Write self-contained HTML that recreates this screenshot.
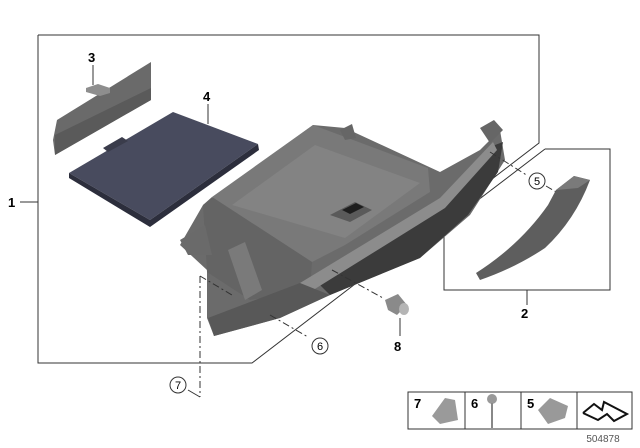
<!DOCTYPE html>
<html><head><meta charset="utf-8"><style>
html,body{margin:0;padding:0;background:#fff;}
svg{display:block;font-family:"Liberation Sans",Arial,sans-serif;}
</style></head><body>
<svg width="640" height="448" viewBox="0 0 640 448">
<!-- frame 1 -->
<polyline points="38,35 539,35 539,143 252,363 38,363 38,35" fill="none" stroke="#333" stroke-width="1"/>
<line x1="20" y1="202" x2="38" y2="202" stroke="#333"/>
<text x="8" y="207" font-size="13" font-weight="bold">1</text>
<!-- frame 2 -->
<polyline points="545,149 610,149 610,290 444,290 444,226 545,149" fill="none" stroke="#333"/>
<line x1="527" y1="290" x2="527" y2="305" stroke="#333"/>
<text x="521" y="318" font-size="13" font-weight="bold">2</text>

<!-- part 3 -->
<polygon points="57,120 151,62 151,100 55,155 53,140" fill="#6a6a6a"/>
<polygon points="55,135 151,88 151,100 55,155" fill="#5a5a5a"/>
<polygon points="86,88 98,84 110,88 110,93 100,96 86,92" fill="#8e8e8e"/>
<line x1="93" y1="65" x2="93" y2="85" stroke="#333"/>
<text x="88" y="62" font-size="13" font-weight="bold">3</text>

<!-- part 4 -->
<polygon points="69,173 173,112 258,144 150,220" fill="#484b5e"/>
<polygon points="69,173 150,220 258,144 259,150 150,227 69,178" fill="#2c2e3c"/>
<polygon points="103,148 122,137 128,141 108,152" fill="#3a3c4b"/>
<line x1="208" y1="104" x2="208" y2="124" stroke="#333"/>
<text x="203" y="101" font-size="13" font-weight="bold">4</text>

<!-- main glove box -->
<polygon points="203,205 313,125 345,128 440,172 480,150 500,130 505,160 470,215 420,258 330,295 280,318 214,336 207,318 207,270 180,245" fill="#6b6b6b"/>
<polygon points="212,197 313,125 428,168 430,192 345,245 312,262" fill="#797979"/>
<polygon points="232,205 315,145 420,183 345,238" fill="#838383"/>
<polygon points="330,215 355,202 372,210 350,222" fill="#5a5a5a"/>
<polygon points="342,210 356,203 364,207 350,214" fill="#1e1e1e"/>
<polygon points="203,205 212,197 312,262 310,290 250,300 207,272" fill="#646464"/>
<polygon points="315,280 440,205 495,145 503,142 498,172 468,215 420,258 330,295" fill="#3b3b3b"/>
<polygon points="300,283 440,198 493,142 497,150 445,208 310,292" fill="#8c8c8c"/>
<polygon points="208,318 300,283 330,295 280,318 214,336" fill="#585858"/>
<polygon points="480,128 494,120 503,130 490,143" fill="#666"/>
<polygon points="340,130 352,124 356,138 345,140" fill="#666"/>
<polygon points="180,240 205,225 212,255 188,255" fill="#6a6a6a"/>
<polygon points="228,250 245,242 262,290 245,300" fill="#7a7a7a"/>
<!-- dashed leaders -->
<g stroke="#333" stroke-width="1" stroke-dasharray="7,3,2,3" fill="none">
<line x1="200" y1="276" x2="200" y2="397"/>
<line x1="200" y1="276" x2="232" y2="295"/>
<line x1="270" y1="315" x2="308" y2="337"/>
<line x1="332" y1="270" x2="383" y2="298"/>
<line x1="490" y1="152" x2="528" y2="176"/>
<line x1="546" y1="186" x2="558" y2="193"/>
</g>
<line x1="188" y1="390" x2="200" y2="397" stroke="#333"/>
<!-- part 2 piece -->
<path d="M476,273 Q520,245 548,205 L556,190 L574,176 L590,180 Q575,220 545,248 Q515,268 480,280 Z" fill="#5e5e5e"/>
<polygon points="556,190 574,176 590,180 578,188" fill="#7a7a7a"/>
<!-- clip 8 -->
<polygon points="385,300 398,294 407,305 397,315 388,310" fill="#8a8a8a"/>
<ellipse cx="404" cy="309" rx="5" ry="6" fill="#b5b5b5"/>
<line x1="400" y1="318" x2="400" y2="336" stroke="#333"/>
<text x="394" y="351" font-size="13" font-weight="bold">8</text>
<!-- circles -->
<g fill="#fff" stroke="#333">
<circle cx="537" cy="181" r="8"/>
<circle cx="320" cy="346" r="8"/>
<circle cx="178" cy="385" r="8"/>
</g>
<g font-size="11" text-anchor="middle">
<text x="537" y="185">5</text><text x="320" y="350">6</text><text x="178" y="389">7</text>
</g>
<!-- legend -->
<rect x="408" y="392" width="224" height="37" fill="#fff" stroke="#333"/>
<line x1="465" y1="392" x2="465" y2="429" stroke="#333"/>
<line x1="521" y1="392" x2="521" y2="429" stroke="#333"/>
<line x1="577" y1="392" x2="577" y2="429" stroke="#333"/>
<g font-size="13" font-weight="bold">
<text x="414" y="408">7</text><text x="471" y="408">6</text><text x="527" y="408">5</text>
</g>
<polygon points="432,416 445,398 455,400 458,420 440,424" fill="#9a9a9a"/>
<circle cx="492" cy="399" r="5" fill="#999"/>
<line x1="492" y1="403" x2="492" y2="428" stroke="#888" stroke-width="2"/>
<polygon points="538,410 550,398 568,406 565,418 548,424" fill="#999"/>
<polyline points="583,413 594,404 602,410 604,402 627,414 614,421 607,414 598,420 583,413" fill="none" stroke="#111" stroke-width="2"/>
<text x="603" y="442" font-size="10" fill="#555" text-anchor="middle">504878</text>
</svg>
</body></html>
